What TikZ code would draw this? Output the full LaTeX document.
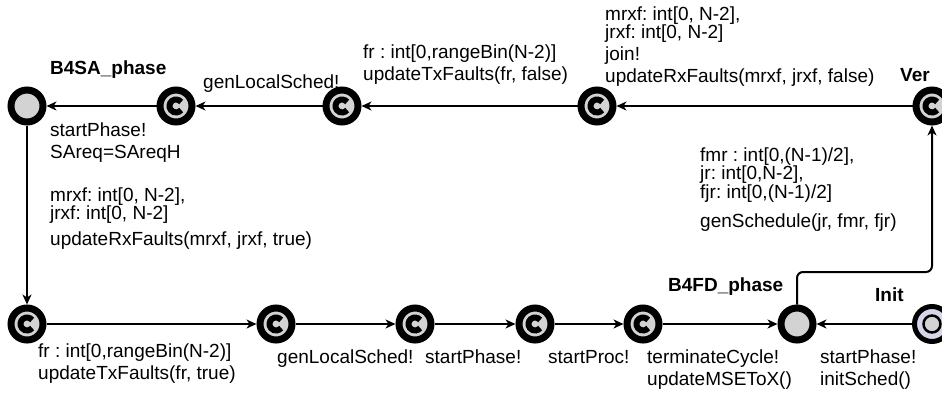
\documentclass[tikz,border=0pt]{standalone}
\usepackage{fontspec}
\setmainfont{Liberation Sans}
\usetikzlibrary{arrows.meta}
\definecolor{locfill}{RGB}{211,211,211}
\definecolor{initring}{RGB}{214,214,234}
\newcommand\lblfont{\fontsize{19bp}{22bp}\selectfont\frenchspacing}
% separate labels of one transition (22bp apart)
\newcommand\lblstack[2]{\vtop{\baselineskip=22bp\hbox{#1}\hbox{#2}}}
% lines of one expression (about 18bp apart)
\newcommand\selstack[2]{\vtop{\baselineskip=18bp\hbox{#1}\hbox{#2}}}
\newcommand\selstackiii[3]{\vtop{\baselineskip=17.5bp\hbox{#1}\hbox{#2}\hbox{#3}}}
\tikzset{
  loc/.style={circle, draw=black, line width=7bp, fill=locfill, minimum size=32bp, inner sep=0pt},
  committed/.style={loc, path picture={
      \draw[line width=6bp] ([shift={(38:6.5bp)}]path picture bounding box.center)
        arc[start angle=38, end angle=322, radius=6.5bp];}},
  initloc/.style={loc, fill=initring, line width=5bp, minimum size=35bp, path picture={
      \draw[line width=2.5bp, fill=locfill] (path picture bounding box.center) circle[radius=8.5bp];}},
  trans/.style={line width=2bp, -{Stealth[length=10bp, width=9bp, inset=3bp]}},
  lbltext/.style={anchor=base west, inner sep=0pt, font=\lblfont},
  locname/.style={anchor=base west, inner sep=0pt, font=\lblfont\bfseries},
}
\begin{document}
\begin{tikzpicture}[x=1bp, y=-1bp]
\useasboundingbox (0,0) rectangle (942,398);
% locations, top row
\node[loc] (b4sa) at (27,106) {};
\node[committed] (c1) at (176,106) {};
\node[committed] (c2) at (342,106) {};
\node[committed] (c3) at (597,106) {};
\node[committed] (ver) at (932,106) {};
% locations, bottom row
\node[committed] (c4) at (27,324) {};
\node[committed] (c5) at (276,324) {};
\node[committed] (c6) at (415,324) {};
\node[committed] (c7) at (535,324) {};
\node[committed] (c8) at (643,324) {};
\node[loc] (b4fd) at (797,324) {};
\node[initloc] (init) at (932,324) {};
\coordinate (turn) at (0,272);
% transitions
\draw[trans] (ver) -- (c3);
\draw[trans] (c3) -- (c2);
\draw[trans] (c2) -- (c1);
\draw[trans] (c1) -- (b4sa);
\draw[trans] (b4sa) -- (c4);
\draw[trans] (c4) -- (c5);
\draw[trans] (c5) -- (c6);
\draw[trans] (c6) -- (c7);
\draw[trans] (c7) -- (c8);
\draw[trans] (c8) -- (b4fd);
\draw[trans] (init) -- (b4fd);
\draw[trans, rounded corners=6bp] (b4fd.north) -- (b4fd.north |- turn) -- (ver.south |- turn) -- (ver.south);
% names
\node[locname] (nb4sa) at (50,74) {B4SA\_phase};
\node[locname] (nver) at (900,81) {Ver};
\node[locname] (nb4fd) at (668,291) {B4FD\_phase};
\node[locname] (ninit) at (875,301) {Init};
% labels, top row
\node[lbltext] (l1) at (203,88) {genLocalSched!};
\node[lbltext] (l2) at (363,58) {\lblstack{fr : int[0,rangeBin(N-2)]}{updateTxFaults(fr, false)}};
\node[lbltext] (l3a) at (605,20) {\selstack{mrxf: int[0, N-2],}{jrxf: int[0, N-2]}};
\node[lbltext] (l3b) at (605,60) {\lblstack{join!}{updateRxFaults(mrxf, jrxf, false)}};
% labels, left column
\node[lbltext] (l4a) at (50,136) {\lblstack{startPhase!}{SAreq=SAreqH}};
\node[lbltext] (l5a) at (50,201) {\selstack{mrxf: int[0, N-2],}{jrxf: int[0, N-2]}};
\node[lbltext] (l5b) at (50,245) {updateRxFaults(mrxf, jrxf, true)};
% labels, right column
\node[lbltext] (l6a) at (700,161) {\selstackiii{fmr : int[0,(N-1)/2],}{jr: int[0,N-2],}{fjr: int[0,(N-1)/2]}};
\node[lbltext] (l6b) at (700,227) {genSchedule(jr, fmr, fjr)};
% labels, bottom row
\node[lbltext] (l7) at (38,357) {\lblstack{fr : int[0,rangeBin(N-2)]}{updateTxFaults(fr, true)}};
\node[lbltext] (l8) at (277,363) {genLocalSched!};
\node[lbltext] (l9) at (425,363) {startPhase!};
\node[lbltext] (l10) at (548,363) {startProc!};
\node[lbltext] (l11) at (647,363) {\lblstack{terminateCycle!}{updateMSEToX()}};
\node[lbltext] (l12) at (820,363) {\lblstack{startPhase!}{initSched()}};
\end{tikzpicture}
\end{document}
